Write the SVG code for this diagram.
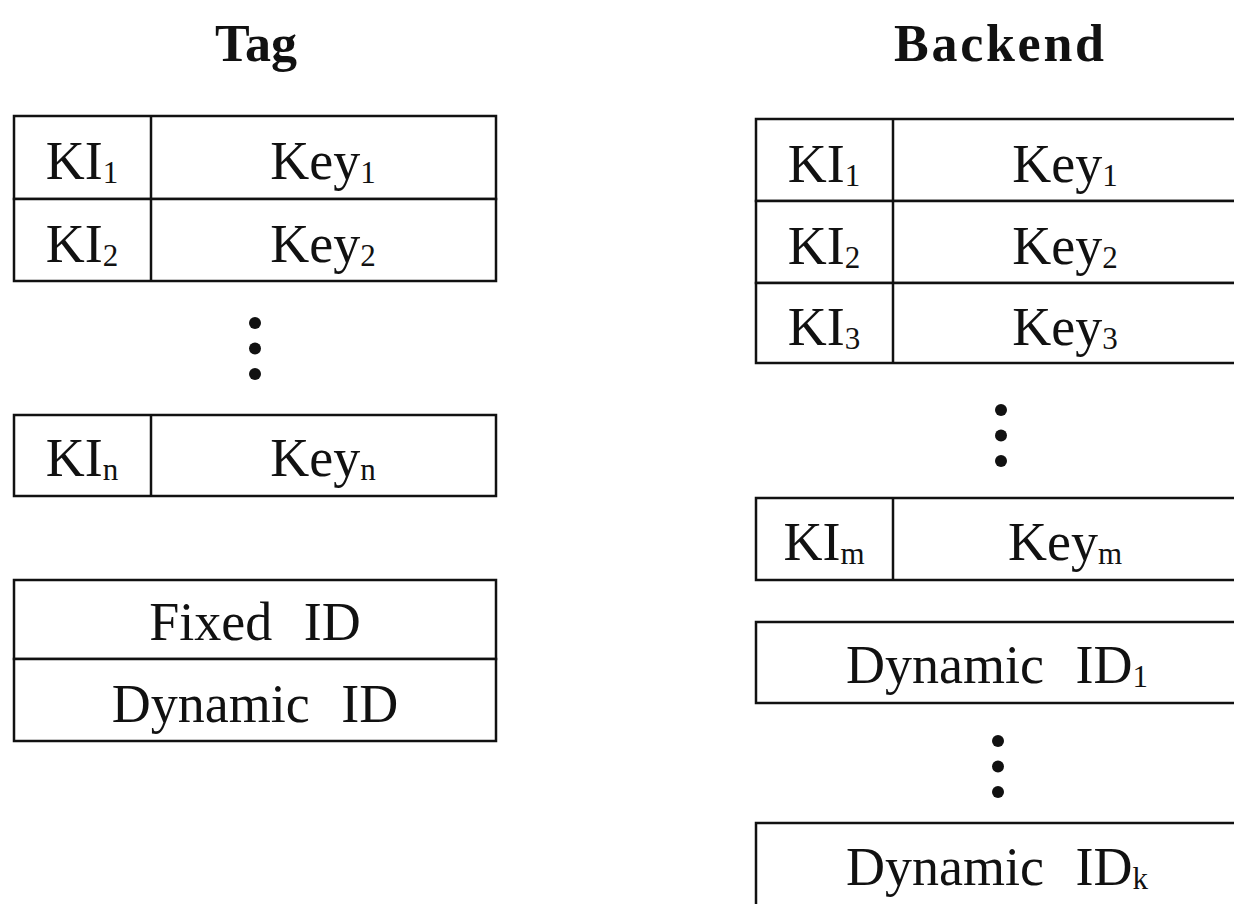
<svg xmlns="http://www.w3.org/2000/svg" width="1234" height="904" viewBox="0 0 1234 904">
  <style>
    .box { fill: #fff; stroke: #111; stroke-width: 2.5; }
    .ln { stroke: #111; stroke-width: 2.5; }
    .t { font-family: "Liberation Serif", "Times New Roman", serif; font-size: 54px; fill: #111; text-anchor: middle; }
    .h { font-family: "Liberation Serif", "Times New Roman", serif; font-size: 52px; font-weight: bold; fill: #111; text-anchor: middle; }
    .ws { word-spacing: 18px; }
    .dot { fill: #111; }
  </style>
  <defs>
    <g id="dots">
      <circle class="dot" cx="0" cy="0" r="6"/>
      <circle class="dot" cx="0" cy="25.5" r="6"/>
      <circle class="dot" cx="0" cy="51" r="6"/>
    </g>
  </defs>

  <rect width="1234" height="904" fill="#fff"/>

  <!-- headings -->
  <text id="title-tag" class="h" x="256" y="61">Tag</text>
  <text id="title-backend" class="h" x="999" y="61" textLength="210" lengthAdjust="spacing">Backend</text>

  <!-- Tag side: key table -->
  <g id="tag-key-1">
    <rect class="box" x="14" y="116" width="482" height="83"/>
    <line class="ln" x1="151" y1="116" x2="151" y2="199"/>
    <text class="t" x="82" y="179">KI<tspan font-size="31" dy="4">1</tspan></text>
    <text class="t" x="323" y="179">Key<tspan font-size="31" dy="4">1</tspan></text>
  </g>
  <g id="tag-key-2">
    <rect class="box" x="14" y="199" width="482" height="82"/>
    <line class="ln" x1="151" y1="199" x2="151" y2="281"/>
    <text class="t" x="82" y="262">KI<tspan font-size="31" dy="4">2</tspan></text>
    <text class="t" x="323" y="262">Key<tspan font-size="31" dy="4">2</tspan></text>
  </g>
  <use id="tag-dots" href="#dots" x="255" y="323"/>
  <g id="tag-key-n">
    <rect class="box" x="14" y="415" width="482" height="81"/>
    <line class="ln" x1="151" y1="415" x2="151" y2="496"/>
    <text class="t" x="82" y="476">KI<tspan font-size="31" dy="4">n</tspan></text>
    <text class="t" x="323" y="476">Key<tspan font-size="31" dy="4">n</tspan></text>
  </g>

  <!-- Tag side: identifiers -->
  <g id="tag-fixed-id">
    <rect class="box" x="14" y="580" width="482" height="79"/>
    <text class="t ws" x="255" y="640">Fixed ID</text>
  </g>
  <g id="tag-dynamic-id">
    <rect class="box" x="14" y="659" width="482" height="82"/>
    <text class="t ws" x="255" y="722">Dynamic ID</text>
  </g>

  <!-- Backend side: key table -->
  <g id="be-key-1">
    <rect class="box" x="756" y="119" width="484" height="82"/>
    <line class="ln" x1="893" y1="119" x2="893" y2="201"/>
    <text class="t" x="824" y="182">KI<tspan font-size="31" dy="4">1</tspan></text>
    <text class="t" x="1065" y="182">Key<tspan font-size="31" dy="4">1</tspan></text>
  </g>
  <g id="be-key-2">
    <rect class="box" x="756" y="201" width="484" height="82"/>
    <line class="ln" x1="893" y1="201" x2="893" y2="283"/>
    <text class="t" x="824" y="264">KI<tspan font-size="31" dy="4">2</tspan></text>
    <text class="t" x="1065" y="264">Key<tspan font-size="31" dy="4">2</tspan></text>
  </g>
  <g id="be-key-3">
    <rect class="box" x="756" y="283" width="484" height="80"/>
    <line class="ln" x1="893" y1="283" x2="893" y2="363"/>
    <text class="t" x="824" y="345">KI<tspan font-size="31" dy="4">3</tspan></text>
    <text class="t" x="1065" y="345">Key<tspan font-size="31" dy="4">3</tspan></text>
  </g>
  <use id="be-dots-1" href="#dots" x="1001" y="410"/>
  <g id="be-key-m">
    <rect class="box" x="756" y="498" width="484" height="82"/>
    <line class="ln" x1="893" y1="498" x2="893" y2="580"/>
    <text class="t" x="824" y="560">KI<tspan font-size="31" dy="4">m</tspan></text>
    <text class="t" x="1065" y="560">Key<tspan font-size="31" dy="4">m</tspan></text>
  </g>

  <!-- Backend side: dynamic identifiers -->
  <g id="be-dynamic-id-1">
    <rect class="box" x="756" y="622" width="484" height="81"/>
    <text class="t ws" x="997" y="683">Dynamic ID<tspan font-size="31" dy="4">1</tspan></text>
  </g>
  <use id="be-dots-2" href="#dots" x="998" y="741"/>
  <g id="be-dynamic-id-k">
    <rect class="box" x="756" y="823" width="484" height="100"/>
    <text class="t ws" x="997" y="885">Dynamic ID<tspan font-size="31" dy="4">k</tspan></text>
  </g>

  <g id="connectors"/>
</svg>
